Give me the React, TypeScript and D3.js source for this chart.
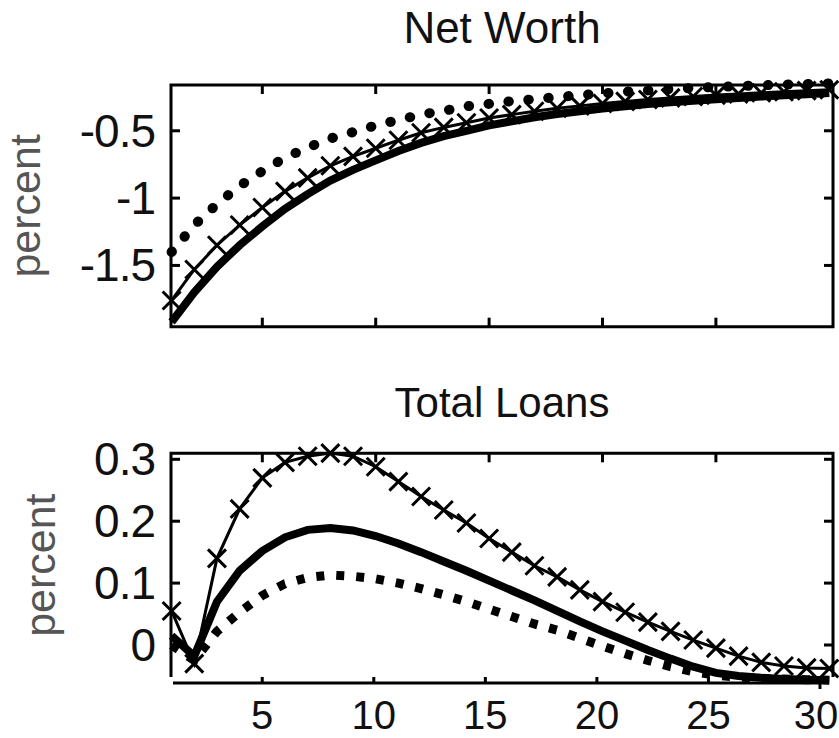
import * as d3 from 'd3';
import { useEffect, useRef } from 'react';

const periods = [1, 2, 3, 4, 5, 6, 7, 8, 9, 10, 11, 12, 13, 14, 15, 16, 17, 18, 19, 20, 21, 22, 23, 24, 25, 26, 27, 28, 29, 30];

// Net Worth responses (percent)
const netWorthSolid = [-1.92, -1.7, -1.51, -1.35, -1.21, -1.08, -0.97, -0.87, -0.79, -0.72, -0.65, -0.59, -0.54, -0.5, -0.46, -0.43, -0.4, -0.375, -0.355, -0.335, -0.318, -0.302, -0.289, -0.277, -0.266, -0.256, -0.246, -0.237, -0.228, -0.22];
const netWorthCross = [-1.76, -1.53, -1.35, -1.2, -1.07, -0.95, -0.85, -0.76, -0.69, -0.63, -0.57, -0.515, -0.475, -0.44, -0.405, -0.38, -0.355, -0.333, -0.315, -0.297, -0.282, -0.268, -0.256, -0.245, -0.235, -0.226, -0.218, -0.21, -0.202, -0.195];
const netWorthDots = [-1.4, -1.2, -1.045, -0.91, -0.8, -0.7, -0.625, -0.557, -0.51, -0.46, -0.42, -0.38, -0.352, -0.318, -0.3, -0.28, -0.265, -0.25, -0.235, -0.222, -0.21, -0.2, -0.19, -0.182, -0.175, -0.168, -0.162, -0.157, -0.152, -0.148];

// Total Loans responses (percent)
const loansSolid = [0.015, -0.018, 0.07, 0.12, 0.152, 0.174, 0.186, 0.189, 0.185, 0.176, 0.164, 0.15, 0.135, 0.12, 0.104, 0.088, 0.072, 0.055, 0.038, 0.022, 0.007, -0.008, -0.022, -0.035, -0.045, -0.05, -0.053, -0.055, -0.056, -0.057];
const loansCross = [0.055, -0.03, 0.14, 0.22, 0.27, 0.295, 0.305, 0.31, 0.305, 0.288, 0.264, 0.24, 0.218, 0.197, 0.172, 0.15, 0.128, 0.11, 0.089, 0.07, 0.053, 0.037, 0.022, 0.008, -0.005, -0.018, -0.028, -0.034, -0.037, -0.038];
const loansDots = [0.0, -0.025, 0.022, 0.053, 0.08, 0.099, 0.109, 0.113, 0.111, 0.107, 0.1, 0.091, 0.081, 0.07, 0.058, 0.046, 0.034, 0.024, 0.011, -0.002, -0.014, -0.025, -0.035, -0.043, -0.049, -0.052, -0.054, -0.055, -0.056, -0.057];

const netWorthTicks = [-1.5, -1, -0.5];
const loansTicks = [0, 0.1, 0.2, 0.3];
const periodTicks = [5, 10, 15, 20, 25];
const periodLabels = [5, 10, 15, 20, 25, 30];

export default function App() {
  const svgRef = useRef<SVGSVGElement>(null);

  useEffect(() => {
    const svg = d3.select(svgRef.current);
    svg.selectAll('*').remove();
    const font = '"Liberation Sans", Arial, sans-serif';

    const left = 171, right = 833;
    const x = d3.scaleLinear().domain([1, 30]).range([171.6, 829.3]);

    const drawPanel = (p: any) => {
      const y = d3.scaleLinear().domain(p.domain).range([p.bottom, p.top]);
      const g = svg.append('g');
      const line = d3.line<number>().x((d, i) => x(periods[i])).y(d => y(d));

      // title
      g.append('text').attr('x', 502).attr('y', p.titleY).attr('text-anchor', 'middle')
        .attr('font-family', font).attr('font-size', p.titleSize).attr('fill', '#111').text(p.title);

      // y label
      g.append('text').attr('transform', `translate(${p.labelX},${(p.top + p.bottom) / 2}) rotate(-90)`)
        .attr('text-anchor', 'middle').attr('font-family', font).attr('font-size', 43)
        .attr('fill', '#555').text('percent');

      // series
      g.append('path').attr('d', line(p.solid)).attr('fill', 'none').attr('stroke', '#000').attr('stroke-width', 8);
      g.append('path').attr('d', line(p.cross)).attr('fill', 'none').attr('stroke', '#000').attr('stroke-width', 3);
      const s = 9;
      g.append('g').selectAll('path').data(p.cross).enter().append('path')
        .attr('d', (d: number, i: number) => {
          const cx = x(periods[i]), cy = y(d);
          return `M${cx - s},${cy - s}L${cx + s},${cy + s}M${cx - s},${cy + s}L${cx + s},${cy - s}`;
        })
        .attr('stroke', '#000').attr('stroke-width', 3);
      g.append('path').attr('d', line(p.dots)).attr('fill', 'none').attr('stroke', '#000')
        .attr('stroke-width', p.dotWidth).attr('stroke-linecap', p.dotCap).attr('stroke-dasharray', p.dotDash);

      // frame
      const frame = p.closed
        ? `M${left},${p.bottom}V${p.top}H${right}V${p.bottom}Z`
        : `M${left},${p.bottom}V${p.top}H${right}V${p.bottom}`;
      g.append('path').attr('d', frame).attr('fill', 'none').attr('stroke', '#000').attr('stroke-width', 3);

      // y ticks both sides
      p.ticks.forEach((t: number) => {
        g.append('line').attr('x1', left).attr('x2', left + 9).attr('y1', y(t)).attr('y2', y(t)).attr('stroke', '#000').attr('stroke-width', 3);
        g.append('line').attr('x1', right).attr('x2', right - 9).attr('y1', y(t)).attr('y2', y(t)).attr('stroke', '#000').attr('stroke-width', 3);
        g.append('text').attr('x', 155).attr('y', y(t) + 16).attr('text-anchor', 'end')
          .attr('font-family', font).attr('font-size', 46).attr('letter-spacing', -1)
          .attr('fill', '#111').text(String(t));
      });

      // x ticks top (and bottom when the frame is closed)
      periodTicks.forEach(t => {
        g.append('line').attr('x1', x(t)).attr('x2', x(t)).attr('y1', p.top).attr('y2', p.top + 9).attr('stroke', '#000').attr('stroke-width', 3);
        if (p.closed) {
          g.append('line').attr('x1', x(t)).attr('x2', x(t)).attr('y1', p.bottom).attr('y2', p.bottom - 9).attr('stroke', '#000').attr('stroke-width', 3);
        }
      });
    };

    drawPanel({
      title: 'Net Worth', titleY: 43, titleSize: 44, labelX: 40, top: 85, bottom: 326.7,
      domain: [-1.955, -0.16], ticks: netWorthTicks, closed: true,
      solid: netWorthSolid, cross: netWorthCross, dots: netWorthDots,
      dotWidth: 10, dotCap: 'round', dotDash: '0.5,19.5',
    });

    drawPanel({
      title: 'Total Loans', titleY: 417, titleSize: 42, labelX: 55, top: 453.3, bottom: 677,
      domain: [-0.0517, 0.3097], ticks: loansTicks, closed: false,
      solid: loansSolid, cross: loansCross, dots: loansDots,
      dotWidth: 9, dotCap: 'butt', dotDash: '8,12',
    });

    // separate bottom axis of the lower panel
    const xb = d3.scaleLinear().domain([1, 30]).range([173, 820]);
    const ax = svg.append('g');
    ax.append('line').attr('x1', 173).attr('x2', 820).attr('y1', 683).attr('y2', 683).attr('stroke', '#000').attr('stroke-width', 3);
    ax.append('line').attr('x1', 820).attr('x2', 820).attr('y1', 683).attr('y2', 689).attr('stroke', '#000').attr('stroke-width', 3);
    periodTicks.forEach(t => {
      ax.append('line').attr('x1', xb(t)).attr('x2', xb(t)).attr('y1', 683).attr('y2', 677).attr('stroke', '#000').attr('stroke-width', 3);
    });
    periodLabels.forEach(t => {
      ax.append('text').attr('x', Math.min(xb(t), 816)).attr('y', 729).attr('text-anchor', 'middle')
        .attr('font-family', font).attr('font-size', 40).attr('fill', '#111').text(String(t));
    });
  }, []);

  return (
    <svg ref={svgRef} width={839} height={738} style={{ position: 'absolute', left: 0, top: 0, background: '#fff' }}></svg>
  );
}
